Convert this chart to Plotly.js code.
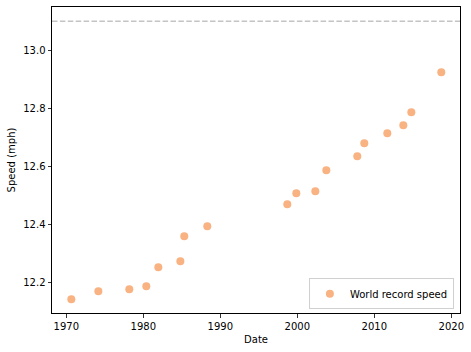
<!DOCTYPE html>
<html>
<head>
<meta charset="utf-8">
<script src="https://cdn.plot.ly/plotly-3.0.1.min.js"></script>
<style>html,body{margin:0;padding:0;background:#fff;}#chart{width:471px;height:352px;}</style>
</head>
<body>
<div id="chart"></div>
<script>
// Date (decimal year) of each world record
var recordYears = [1970.65, 1974.16, 1978.18, 1980.39, 1981.95, 1984.81, 1985.32, 1988.31,
  1998.70, 1999.87, 2002.34, 2003.77, 2007.79, 2008.70, 2011.69, 2013.77, 2014.81, 2018.70];
// Speed (mph)
var recordSpeeds = [12.141, 12.169, 12.176, 12.186, 12.252, 12.272, 12.359, 12.393,
  12.469, 12.507, 12.514, 12.586, 12.634, 12.679, 12.714, 12.741, 12.786, 12.924];
var referenceSpeed = 13.1;
var xTicks = [1970, 1980, 1990, 2000, 2010, 2020];
var yTicks = [12.2, 12.4, 12.6, 12.8, 13.0];
var yTickText = ["12.2", "12.4", "12.6", "12.8", "13.0"];

var trace = {
  x: recordYears,
  y: recordSpeeds,
  mode: 'markers',
  type: 'scatter',
  name: 'World record speed',
  marker: {color: '#f9b282', size: 8, line: {width: 0}}
};

var axisCommon = {
  showgrid: false, zeroline: false,
  showline: true, mirror: true, linecolor: '#000', linewidth: 1,
  ticks: 'outside', ticklen: 3.5, tickwidth: 0.8, tickcolor: '#000',
  tickfont: {family: 'DejaVu Sans', size: 10, color: '#000'}
};

var layout = {
  width: 471, height: 352,
  margin: {l: 52, r: 11, t: 7, b: 39},
  paper_bgcolor: '#fff', plot_bgcolor: '#fff',
  font: {family: 'DejaVu Sans', size: 10, color: '#000'},
  xaxis: Object.assign({}, axisCommon, {
    range: [1968.14, 2021.13],
    tickvals: xTicks, ticktext: xTicks.map(String),
    title: {text: 'Date', font: {family: 'DejaVu Sans', size: 10, color: '#000'}, standoff: 5}
  }),
  yaxis: Object.assign({}, axisCommon, {
    range: [12.094, 13.149],
    tickvals: yTicks, ticktext: yTickText,
    title: {text: 'Speed (mph)', font: {family: 'DejaVu Sans', size: 10, color: '#000'}, standoff: 5}
  }),
  shapes: [{
    type: 'line', xref: 'paper', x0: 0, x1: 1, yref: 'y', y0: referenceSpeed, y1: referenceSpeed,
    line: {color: '#c4c4c4', width: 1.5, dash: '5.5px,2.4px'}
  }],
  showlegend: true,
  legend: {
    x: 0.985, y: 0.012, xanchor: 'right', yanchor: 'bottom',
    itemwidth: 30, tracegroupgap: 0,
    bgcolor: '#fff', bordercolor: '#d0d0d0', borderwidth: 1,
    font: {family: 'DejaVu Sans', size: 10, color: '#000'}
  }
};

Plotly.newPlot('chart', [trace], layout, {displayModeBar: false, staticPlot: true});
</script>
</body>
</html>
